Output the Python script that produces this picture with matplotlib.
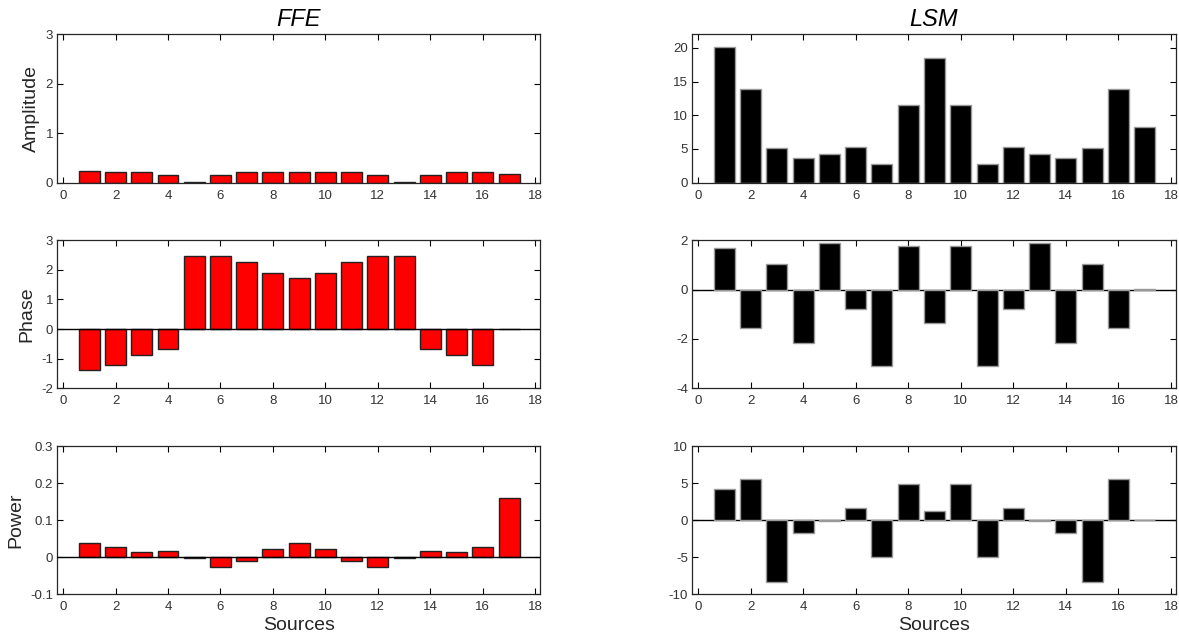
import numpy as np
import matplotlib.pyplot as plt

plt.rcParams['font.family'] = ['Liberation Sans', 'DejaVu Sans']
plt.rcParams['axes.unicode_minus'] = False

# Source indices
sources = np.arange(1, 18)

# FFE results
ffe_amplitude = [0.226, 0.22, 0.205, 0.144, 0.012, 0.164, 0.21, 0.205, 0.205,
                 0.205, 0.21, 0.164, 0.012, 0.144, 0.205, 0.22, 0.17]
ffe_phase = [-1.39, -1.22, -0.89, -0.68, 2.47, 2.47, 2.26, 1.90, 1.72,
             1.90, 2.26, 2.47, 2.47, -0.68, -0.89, -1.22, 0.0]
ffe_power = [0.038, 0.027, 0.014, 0.016, -0.003, -0.027, -0.011, 0.023, 0.038,
             0.023, -0.011, -0.027, -0.003, 0.016, 0.014, 0.027, 0.160]

# LSM results
lsm_amplitude = [20.15, 13.9, 5.2, 3.7, 4.3, 5.35, 2.75, 11.5, 18.5,
                 11.5, 2.75, 5.35, 4.3, 3.7, 5.2, 13.9, 8.25]
lsm_phase = [1.67, -1.57, 1.02, -2.18, 1.87, -0.80, -3.11, 1.75, -1.36,
             1.75, -3.11, -0.80, 1.87, -2.18, 1.02, -1.57, 0.02]
lsm_power = [4.28, 5.59, -8.33, -1.71, -0.14, 1.62, -4.91, 4.86, 1.31,
             4.86, -4.91, 1.62, -0.14, -1.71, -8.33, 5.59, 0.09]

row_labels = ["Amplitude", "Phase", "Power"]
ffe_ylims = [(0, 3), (-2, 3), (-0.1, 0.3)]
ffe_yticks = [[0, 1, 2, 3], [-2, -1, 0, 1, 2, 3], [-0.1, 0, 0.1, 0.2, 0.3]]
ffe_yticklabels = [["0", "1", "2", "3"], ["-2", "-1", "0", "1", "2", "3"],
                   ["-0.1", "0", "0.1", "0.2", "0.3"]]
lsm_ylims = [(0, 22), (-4, 2), (-10, 10)]
lsm_yticks = [[0, 5, 10, 15, 20], [-4, -2, 0, 2], [-10, -5, 0, 5, 10]]

fig = plt.figure(figsize=(11.79, 6.43), dpi=100)

# axes positions (fig fractions)
rows_bottom = [0.716, 0.396, 0.0757]
row_h = 0.2305
left_x, left_w = 0.0486, 0.4094
right_x, right_w = 0.5872, 0.41

ffe_data = [ffe_amplitude, ffe_phase, ffe_power]
lsm_data = [lsm_amplitude, lsm_phase, lsm_power]


def style_axes(ax):
    ax.set_xlim(-0.22, 18.18)
    ax.set_xticks(range(0, 19, 2))
    ax.tick_params(direction='in', top=True, right=True, labelsize=9.5,
                   labelcolor='#333333', length=4, width=0.8)
    ax.tick_params(axis='x', pad=5)
    ax.tick_params(axis='y', pad=3)
    for s in ax.spines.values():
        s.set_linewidth(0.9)
        s.set_color('#262626')


for i in range(3):
    # FFE column
    ax = fig.add_axes([left_x, rows_bottom[i], left_w, row_h])
    ax.bar(sources, ffe_data[i], width=0.8, color='#ff0000',
           edgecolor='#222222', linewidth=1.0, zorder=2)
    if i > 0:
        ax.axhline(0, color='k', lw=1.0, zorder=3)
    ax.set_ylim(*ffe_ylims[i])
    ax.set_yticks(ffe_yticks[i])
    ax.set_yticklabels(ffe_yticklabels[i])
    style_axes(ax)
    ax.set_ylabel(row_labels[i], fontsize=14, color='#262626', labelpad=4)
    if i == 0:
        ax.set_title("FFE", fontsize=17, style='italic', pad=6)
    if i == 2:
        ax.set_xlabel("Sources", fontsize=14, color='#262626', labelpad=3)

    # LSM column
    ax = fig.add_axes([right_x, rows_bottom[i], right_w, row_h])
    ax.bar(sources, lsm_data[i], width=0.8, color='black',
           edgecolor='#999999', linewidth=1.0, zorder=2)
    if i > 0:
        ax.axhline(0, color='k', lw=1.0, zorder=1)
    ax.set_ylim(*lsm_ylims[i])
    ax.set_yticks(lsm_yticks[i])
    style_axes(ax)
    if i == 0:
        ax.set_title("LSM", fontsize=17, style='italic', pad=6)
    if i == 2:
        ax.set_xlabel("Sources", fontsize=14, color='#262626', labelpad=3)

fig.savefig("out.png", dpi=100)
